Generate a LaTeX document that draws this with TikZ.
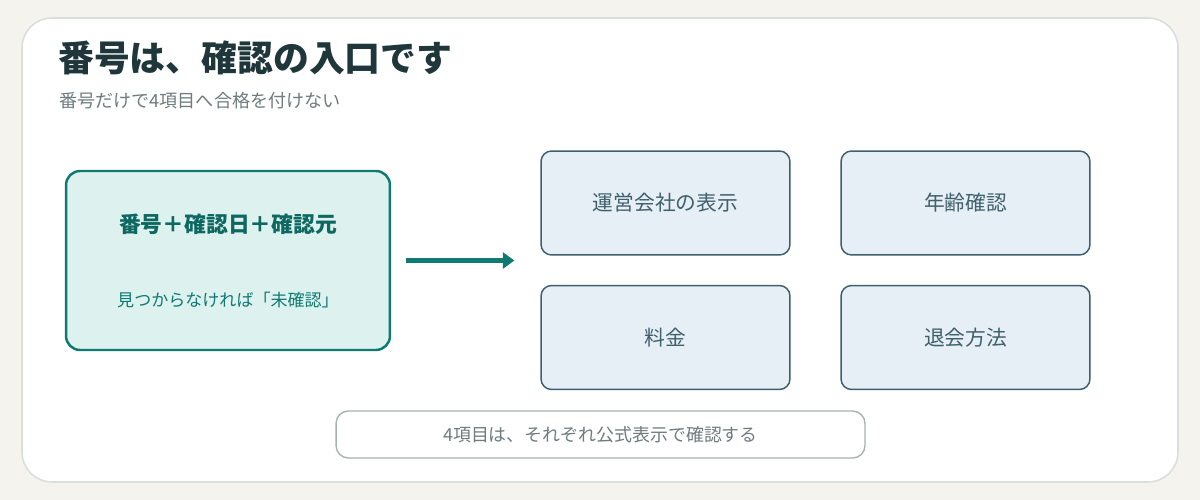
\documentclass[tikz,border=0pt]{standalone}
\usepackage{fontspec}
\setmainfont{Noto Sans CJK JP}
\usetikzlibrary{arrows.meta,positioning,calc}

\definecolor{fundo}{HTML}{F4F3ED}
\definecolor{borda}{HTML}{D9DFDD}
\definecolor{tinta}{HTML}{1F373B}
\definecolor{cinza}{HTML}{6E7C7F}
\definecolor{verde}{HTML}{0F7A72}
\definecolor{verdeclaro}{HTML}{DDF2EE}
\definecolor{azulclaro}{HTML}{E6EFF5}
\definecolor{azulborda}{HTML}{3E5F6D}
\definecolor{azultexto}{HTML}{40606C}
\definecolor{notaborda}{HTML}{A8B1B1}

\begin{document}
\begin{tikzpicture}[x=0.02cm, y=-0.02cm,
    itembox/.style={draw=azulborda, line width=0.85pt, fill=azulclaro, rounded corners=6pt,
      minimum width=4.98cm, minimum height=2.08cm, inner sep=0pt,
      text=azultexto, font=\fontsize{11.8}{14}\selectfont},
    numbox/.style={draw=verde, line width=1.4pt, fill=verdeclaro, rounded corners=8pt,
      minimum width=6.48cm, minimum height=3.58cm, inner sep=0pt},
    notebox/.style={draw=notaborda, line width=0.8pt, fill=white, rounded corners=7pt,
      minimum width=10.58cm, minimum height=0.94cm, inner sep=0pt,
      text=cinza, font=\fontsize{10.2}{12}\selectfont}]

    % Fundo e cartão
    \fill[fundo] (0,0) rectangle (1200,500);
    \useasboundingbox (0,0) rectangle (1200,500);
    \draw[borda, line width=0.9pt, fill=white, rounded corners=17pt] (22,18) rectangle (1178,482);

    % Título
    \node[anchor=west, text=tinta, font=\fontsize{20.4}{24}\selectfont\bfseries] (titulo) at (52,58) {番号は、確認の入口です};
    \node[anchor=west, text=cinza, font=\fontsize{10.3}{12}\selectfont] (subtitulo) at (53,101) {番号だけで4項目へ合格を付けない};

    % Caixa da esquerda
    \node[numbox] (numero) at (228,260.5) {};
    \node[text=verde!85!black, font=\fontsize{12.4}{14}\selectfont\bfseries] (numtexto) at ($(numero.center)+(0,-36)$) {番号＋確認日＋確認元};
    \node[text=verde, font=\fontsize{9.7}{11}\selectfont] (numnota) at ($(numero.center)+(0,40)$) {見つからなければ「未確認」};

    % Quatro itens
    \node[itembox] (operador) at (665.5,203) {運営会社の表示};
    \node[itembox] (idade) at (965.5,203) {年齢確認};
    \node[itembox] (preco) at (665.5,337.5) {料金};
    \node[itembox] (saida) at (965.5,337.5) {退会方法};

    % Seta
    \draw[verde, line width=2.3pt, -{Triangle[length=6.5pt, width=9pt]}, shorten <=15*0.567pt, shorten >=26*0.567pt]
      (numero.east) -- (numero.east -| preco.west);

    % Nota
    \node[notebox] (nota) at (600.5,434.5) {4項目は、それぞれ公式表示で確認する};

\end{tikzpicture}
\end{document}
